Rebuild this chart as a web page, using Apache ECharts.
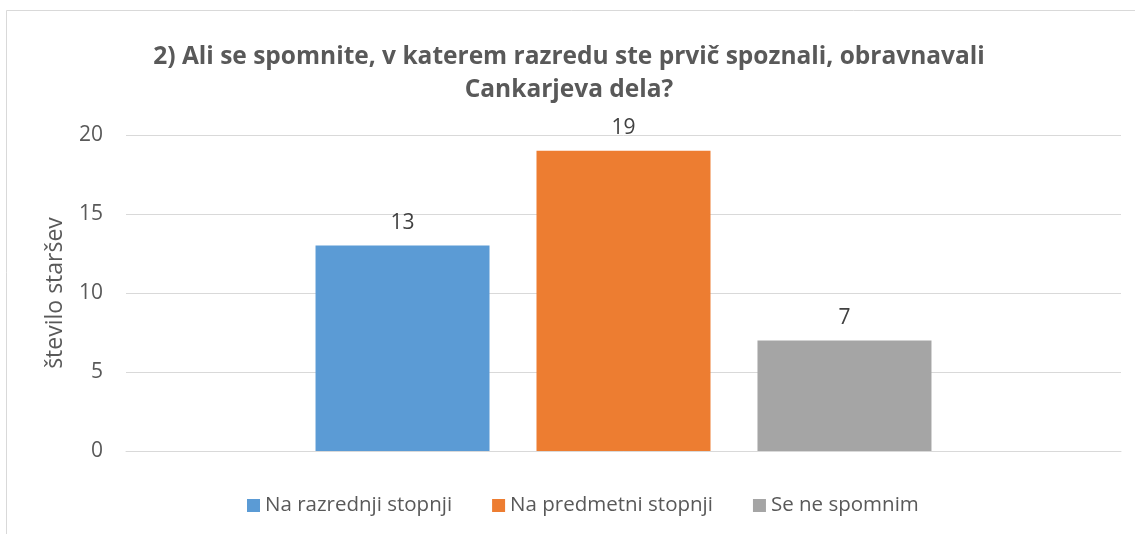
<!DOCTYPE html>
<html>
<head>
<meta charset="utf-8">
<script src="https://cdn.jsdelivr.net/npm/echarts@6/dist/echarts.min.js"></script>
<style>
  html, body { margin: 0; padding: 0; background: #fff; }
  #chart { width: 1135px; height: 534px; }
</style>
</head>
<body>
<div id="chart"></div>
<script>
// podatki
const titleText = "2) Ali se spomnite, v katerem razredu ste prvič spoznali, obravnavali\nCankarjeva dela?";
const seriesNames = ["Na razrednji stopnji", "Na predmetni stopnji", "Se ne spomnim"];
const seriesValues = [13, 19, 7];
const seriesColors = ["#5B9BD5", "#ED7D31", "#A5A5A5"];
const yAxisName = "število staršev";
const yMin = 0;
const yMax = 20;
const yInterval = 5;

const fontFamily = "'Open Sans', sans-serif";
const textColor = "#595959";

const myChart = echarts.init(document.getElementById("chart"));

const option = {
  animation: false,
  backgroundColor: "#fff",
  textStyle: { fontFamily: fontFamily },
  title: {
    text: titleText,
    left: 564,
    textAlign: "center",
    top: 36,
    textStyle: {
      fontFamily: fontFamily,
      fontSize: 24.5,
      fontWeight: "bold",
      color: textColor,
      lineHeight: 33,
    },
  },
  legend: {
    left: 242,
    top: 490,
    icon: "rect",
    itemWidth: 13,
    itemHeight: 13,
    itemGap: 40,
    textStyle: { fontFamily: fontFamily, fontSize: 20.5, color: textColor },
    data: seriesNames,
  },
  grid: { left: 126, right: 14, top: 135, bottom: 83 },
  xAxis: {
    type: "category",
    data: [""],
    axisLine: { lineStyle: { color: "#D9D9D9" } },
    axisTick: { show: false },
    axisLabel: { show: false },
  },
  yAxis: {
    type: "value",
    min: yMin,
    max: yMax,
    interval: yInterval,
    name: yAxisName,
    nameLocation: "middle",
    nameGap: 59,
    nameTextStyle: { fontFamily: fontFamily, fontSize: 23, color: textColor },
    axisLine: { show: false },
    axisTick: { show: false },
    axisLabel: { fontFamily: fontFamily, fontSize: 21, color: textColor, margin: 23 },
    splitLine: { lineStyle: { color: "#D9D9D9", width: 1 } },
  },
  series: seriesNames.map((name, i) => ({
    name: name,
    type: "bar",
    data: [seriesValues[i]],
    barWidth: 174,
    barGap: "27%",
    itemStyle: { color: seriesColors[i] },
    label: {
      show: true,
      position: "top",
      distance: 12,
      fontFamily: fontFamily,
      fontSize: 21,
      color: "#404040",
    },
  })),
  graphic: [
    {
      type: "rect",
      shape: { x: 6.5, y: 10.5, width: 1200, height: 600 },
      style: { fill: null, stroke: "#D9D9D9", lineWidth: 1 },
      silent: true,
    },
  ],
};

myChart.setOption(option);
</script>
</body>
</html>
